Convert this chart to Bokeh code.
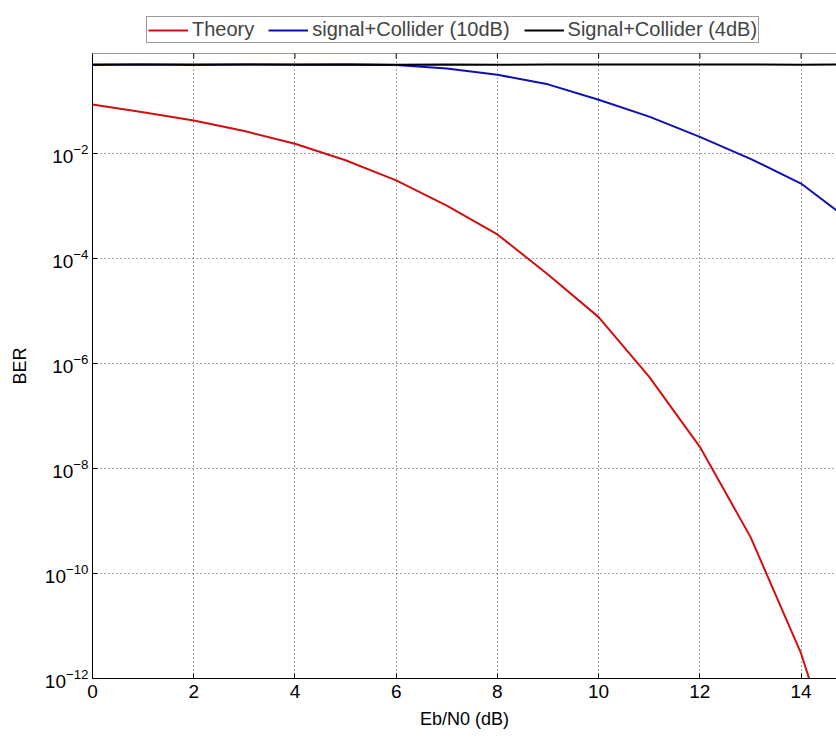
from bokeh.plotting import figure
from bokeh.layouts import column
from bokeh.models import (Legend, LegendItem, FixedTicker, LogTickFormatter,
                          Range1d, Span)
from bokeh.embed import file_html
from bokeh.resources import INLINE

# ---- data ----
ebn0 = [0, 1, 2, 3, 4, 5, 6, 7, 8, 9, 10, 11, 12, 13, 14, 15]
theory = [0.087, 0.062, 0.043, 0.027, 0.0155, 0.0075, 0.0031, 1.03e-3,
          2.9e-4, 5.0e-5, 7.7e-6, 5.6e-7, 2.6e-8, 5.0e-10, 3.0e-12, 3.0e-15]
sig_10db = [0.49, 0.50, 0.49, 0.50, 0.50, 0.50, 0.49, 0.42, 0.32, 0.21,
            0.107, 0.051, 0.021, 0.008, 0.0027, 0.0005]
sig_4db = [0.50, 0.50, 0.50, 0.50, 0.497, 0.50, 0.497, 0.50, 0.497, 0.50,
           0.50, 0.50, 0.50, 0.50, 0.497, 0.50]

labels = ["Theory", "signal+Collider (10dB)", "Signal+Collider (4dB)"]
colors = ["#d01010", "#1010b0", "black"]

x_ticks = [0, 2, 4, 6, 8, 10, 12, 14]
y_ticks = [1e-12, 1e-10, 1e-8, 1e-6, 1e-4, 1e-2]

FONT = "Liberation Sans"
X_MAX = 14.7
Y_MIN, Y_MAX = 1e-12, 10 ** -0.09

# ---------------- main plot ----------------
p = figure(frame_width=744, frame_height=625, y_axis_type="log",
           x_range=Range1d(0, X_MAX), y_range=Range1d(Y_MIN, Y_MAX),
           output_backend="svg", toolbar_location=None,
           min_border_left=92, min_border_right=0, min_border_top=8,
           min_border_bottom=58)
p.outline_line_color = None
p.background_fill_color = "white"

series = [theory, sig_10db, sig_4db]
for ys, c in zip(series, colors):
    p.line(ebn0, ys, line_color=c, line_width=2)

xt = FixedTicker(ticks=x_ticks, minor_ticks=[])
yt = FixedTicker(ticks=y_ticks, minor_ticks=[])

xa = p.xaxis[0]
xa.ticker = xt
xa.axis_label = "Eb/N0 (dB)"
ya = p.yaxis[0]
ya.ticker = yt
ya.formatter = LogTickFormatter()
ya.axis_label = "BER"

for ax in (xa, ya):
    ax.major_tick_in = 5
    ax.major_tick_out = 0
    ax.minor_tick_in = 0
    ax.minor_tick_out = 0
    ax.axis_line_color = "black"
    ax.major_tick_line_color = "black"
    ax.major_label_text_font = FONT
    ax.major_label_text_font_size = "19px"
    ax.major_label_text_color = "black"
    ax.axis_label_text_font = FONT
    ax.axis_label_text_font_size = "18px"
    ax.axis_label_text_font_style = "normal"
    ax.axis_label_text_color = "black"

xa.major_label_standoff = 6
xa.axis_label_standoff = 8
ya.major_label_standoff = 4
ya.axis_label_standoff = 12

# top border of the box with inward ticks at the x tick positions
p.add_layout(Span(location=Y_MAX, dimension="width", line_color="#333333",
                  line_width=1))
p.segment(x0=x_ticks, x1=x_ticks, y0=[Y_MAX] * len(x_ticks),
          y1=[Y_MAX * 10 ** (-5 / 52.5)] * len(x_ticks),
          line_color="black", line_width=1)

p.xgrid.ticker = xt
p.ygrid.ticker = yt
for g in (p.xgrid, p.ygrid):
    g.grid_line_color = "#444444"
    g.grid_line_dash = "1 3"
    g.grid_line_width = 1

# ---------------- legend strip above the plot ----------------
lg = figure(width=836, height=45, x_range=Range1d(100, 101),
            y_range=Range1d(100, 101), x_axis_type=None, y_axis_type=None,
            output_backend="svg", toolbar_location=None,
            min_border=0, outline_line_color=None)
lg.xgrid.visible = False
lg.ygrid.visible = False
items = []
for lab, ys, c in zip(labels, series, colors):
    r = lg.line(ebn0, ys, line_color=c, line_width=2)
    items.append(LegendItem(label=lab, renderers=[r]))

# the column aligns this strip's frame with the plot frame (x = 92)
legend = Legend(items=items, orientation="horizontal", location=(54, 2),
                border_line_color="#333333", border_line_width=1,
                background_fill_color="white", background_fill_alpha=1,
                label_text_font=FONT, label_text_font_size="20px",
                glyph_width=40, glyph_height=18, label_height=18,
                padding=1, spacing=14, margin=0, label_standoff=4)
lg.add_layout(legend, "center")

layout = column(lg, p, spacing=0)
open("out.html", "w").write(file_html(layout, INLINE))
